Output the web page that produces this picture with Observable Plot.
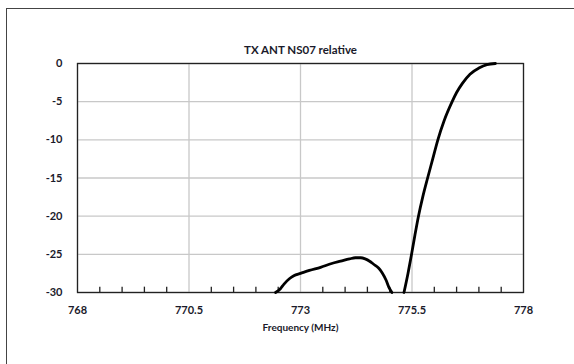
<!DOCTYPE html>
<html>
<head>
<meta charset="utf-8">
<script src="https://cdn.jsdelivr.net/npm/d3@7"></script>
<script src="https://cdn.jsdelivr.net/npm/@observablehq/plot@0.6"></script>
<style>
  html, body { margin: 0; padding: 0; background: #fff; }
  #wrap { position: relative; width: 574px; height: 364px; overflow: hidden; }
  #frame { position: absolute; left: 6px; top: 8px; width: 600px; height: 400px; border: 1.3px solid #444; box-sizing: border-box; }
  #chart { position: absolute; left: 0; top: 0; }
  svg text { font-family: Lato, "Open Sans", sans-serif; }
</style>
</head>
<body>
<div id="wrap"><div id="frame"></div><div id="chart"></div></div>
<script>
const title = "TX ANT NS07 relative";
const xLabel = "Frequency (MHz)";
const xTicks = [768, 770.5, 773, 775.5, 778];
const yTicks = [0, -5, -10, -15, -20, -25, -30];
const minorTicks = [768.5,769,769.5,770,771,771.5,772,772.5,773.5,774,774.5,775,776,776.5,777,777.5];

// segment 1: lower sidelobe hump
const freq1 = [772.44,772.55,772.63,772.75,772.85,773.0,773.2,773.45,773.7,773.9,774.1,774.23,774.35,774.45,774.55,774.64,774.75,774.83,774.92,774.98,775.05];
const rel1  = [-30,-29.5,-28.9,-28.2,-27.8,-27.5,-27.1,-26.7,-26.2,-25.9,-25.6,-25.45,-25.45,-25.6,-25.9,-26.3,-26.8,-27.4,-28.4,-29.3,-30];
// segment 2: passband edge
const freq2 = [775.32,775.41,775.49,775.565,775.645,775.74,775.85,775.965,776.08,776.22,776.4,776.5,776.63,776.8,777.0,777.18,777.37];
const rel2  = [-30,-27.5,-25,-22.5,-20,-17.5,-15,-12.5,-10,-7.5,-5,-3.8,-2.6,-1.4,-0.6,-0.15,0];

const data = [
  ...freq1.map((f, i) => ({f, v: rel1[i], s: "a"})),
  ...freq2.map((f, i) => ({f, v: rel2[i], s: "b"}))
];

const font = "Lato, 'Open Sans', sans-serif";
const chart = Plot.plot({
  width: 574, height: 364,
  marginLeft: 77, marginRight: 51, marginTop: 63, marginBottom: 72,
  style: {background: "transparent", fontFamily: font},
  x: {domain: [768, 778]},
  y: {domain: [-30, 0]},
  marks: [
    Plot.gridX(xTicks, {stroke: "#c8c8c8", strokeOpacity: 1, strokeWidth: 1.3}),
    Plot.gridY(yTicks, {stroke: "#c8c8c8", strokeOpacity: 1, strokeWidth: 1.3}),
    Plot.ruleX(minorTicks, {y1: -30, y2: -29.3, stroke: "#222", strokeWidth: 1.3}),
    Plot.frame({stroke: "#222", strokeWidth: 1.3}),
    Plot.axisX(xTicks, {tickSize: 0, tickPadding: 14, tickFormat: d => String(d), fontSize: 11, fontWeight: "bold", fill: "#1a1a2a", label: null}),
    Plot.axisY(yTicks, {tickSize: 0, tickPadding: 15, tickFormat: d => String(d), fontSize: 11, fontWeight: "bold", fill: "#1a1a2a", label: null}),
    Plot.line(data, {x: "f", y: "v", z: "s", stroke: "#000", strokeWidth: 2.8, curve: "monotone-x"}),
    Plot.text([title], {frameAnchor: "top", dy: -18, fontSize: 11.5, fontWeight: "bold", fill: "#1a1a2a"}),
    Plot.text([xLabel], {frameAnchor: "bottom", dy: 38, fontSize: 10, fontWeight: "bold", fill: "#1a1a2a"})
  ]
});
document.getElementById("chart").appendChild(chart);
</script>
</body>
</html>
